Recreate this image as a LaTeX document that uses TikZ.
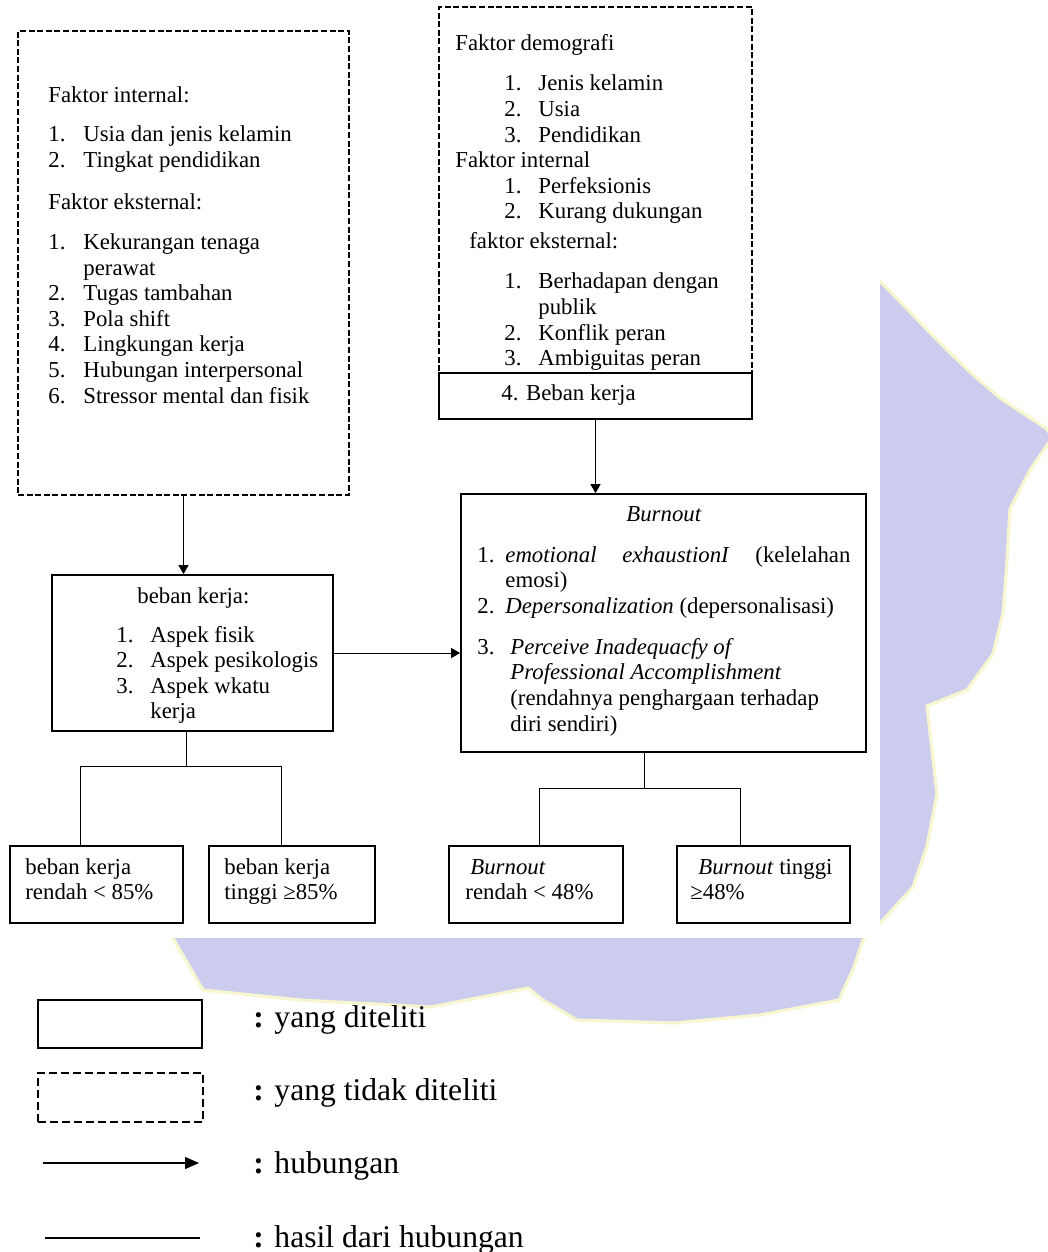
\documentclass[tikz,border=0pt]{standalone}
\usepackage{fontspec}
\setmainfont{Liberation Serif}
\usetikzlibrary{arrows.meta}
\definecolor{wmfill}{RGB}{204,204,238}
\definecolor{wmedge}{RGB}{248,246,208}
\newcommand{\diagfont}{\fontsize{11.4pt}{12.8pt}\selectfont}
\newcommand{\legfont}{\fontsize{15.8pt}{18pt}\selectfont}
\tikzset{
  solidbox/.style={draw, line width=0.85pt, inner sep=0pt},
  dashbox/.style={draw, line width=0.8pt, dash pattern=on 3pt off 1.3pt, inner sep=0pt},
  txt/.style={inner sep=0pt, anchor=base west, font=\diagfont},
  legtxt/.style={inner sep=0pt, anchor=base west, font=\legfont},
  link/.style={line width=0.5pt},
  rel/.style={link, -{Triangle[length=4.5pt,width=5pt]}}
}
\begin{document}
\begin{tikzpicture}[x=0.5pt,y=-0.5pt]
\useasboundingbox (0,0) rectangle (1048,1252);
% watermark behind the white sheet
\filldraw[wmfill, draw=wmedge, line width=1.6pt] (820,240) -- (883,284) -- (910,312) -- (940,343) -- (970,372) -- (1000,398) -- (1047,429) -- (1052,438) -- (1030,470) -- (1010,509) -- (1007,561) -- (1003,613) -- (993,654) -- (967,690) -- (927,706) -- (937,794) -- (927,846) -- (913,887) -- (883,920) -- (863,940) -- (854,967) -- (839,1000) -- (760,1015) -- (674,1023) -- (577,1020) -- (543,1000) -- (528,988) -- (431,1007) -- (300,1000) -- (203,990) -- (174,940) -- (150,900) -- cycle;
\fill[white] (0,0) rectangle (880,938);

% faktor (tidak diteliti), kiri
\node[dashbox, minimum width=165.5pt, minimum height=232pt] (intbox) at (183.5,263) {};
\node[txt] (inttext) at (48,103) {\begin{tabular}[t]{@{}p{17.5pt}@{}l@{}}
\multicolumn{2}{@{}l@{}}{Faktor internal:}\\[6.7pt]
1. & Usia dan jenis kelamin\\
2. & Tingkat pendidikan\\[8.2pt]
\multicolumn{2}{@{}l@{}}{Faktor eksternal:}\\[7.2pt]
1. & Kekurangan tenaga\\
   & perawat\\
2. & Tugas tambahan\\
3. & Pola shift\\
4. & Lingkungan kerja\\
5. & Hubungan interpersonal\\
6. & Stressor mental dan fisik
\end{tabular}};

% faktor burnout, kanan atas
\node[dashbox, minimum width=156.5pt, minimum height=183pt] (demobox) at (595.5,190) {};
\node[txt] (demotext) at (455,51) {\begin{tabular}[t]{@{}p{24.5pt}@{}p{17pt}@{}l@{}}
\multicolumn{3}{@{}l@{}}{Faktor demografi}\\[7.2pt]
 & 1. & Jenis kelamin\\
 & 2. & Usia\\
 & 3. & Pendidikan\\
\multicolumn{3}{@{}l@{}}{Faktor internal}\\
 & 1. & Perfeksionis\\
 & 2. & Kurang dukungan\\[2.2pt]
\multicolumn{3}{@{\hspace{7pt}}l@{}}{faktor eksternal:}\\[7.2pt]
 & 1. & Berhadapan dengan\\
 &    & publik\\
 & 2. & Konflik peran\\
 & 3. & Ambiguitas peran
\end{tabular}};
\node[solidbox, minimum width=156.5pt, minimum height=23pt] (bebanbox) at (595.5,396) {};
\node[txt] (bebantext) at (501,400) {4. Beban kerja};

% beban kerja
\node[solidbox, minimum width=140.5pt, minimum height=78pt] (bkbox) at (192.5,653) {};
\node[txt] (bktext) at (116,603) {\begin{tabular}[t]{@{}p{17pt}@{}l@{}}
\multicolumn{2}{@{\hspace{10.5pt}}l@{}}{beban kerja:}\\[6.7pt]
1. & Aspek fisik\\
2. & Aspek pesikologis\\
3. & Aspek wkatu\\
   & kerja
\end{tabular}};

% burnout
\node[solidbox, minimum width=202.5pt, minimum height=129pt] (burnbox) at (663.5,623) {};
\node[txt] (burntext) at (477,521) {\begin{tabular}[t]{@{}p{14pt}@{}l@{}}
\multicolumn{2}{@{\hspace{74.5pt}}l@{}}{\textit{Burnout}}\\[7.7pt]
1. & \makebox[172.5pt][l]{\textit{emotional}\hfill\textit{exhaustionI}\hfill(kelelahan}\\
   & emosi)\\
2. & \textit{Depersonalization} (depersonalisasi)\\[7.7pt]
3. & \hspace{2.5pt}\textit{Perceive Inadequacfy of}\\
   & \hspace{2.5pt}\textit{Professional Accomplishment}\\
   & \hspace{2.5pt}(rendahnya penghargaan terhadap\\
   & \hspace{2.5pt}diri sendiri)
\end{tabular}};

% hasil
\node[solidbox, minimum width=86.5pt, minimum height=38.5pt] (lowA) at (96.5,884.5) {};
\node[solidbox, minimum width=83pt, minimum height=38.5pt] (lowB) at (292,884.5) {};
\node[solidbox, minimum width=87pt, minimum height=38.5pt] (lowC) at (536,884.5) {};
\node[solidbox, minimum width=86.5pt, minimum height=38.5pt] (lowD) at (763.5,884.5) {};
\node[txt] (lowAtext) at (25,874) {\begin{tabular}[t]{@{}l@{}}beban kerja\\rendah < 85\%\end{tabular}};
\node[txt] (lowBtext) at (224,874) {\begin{tabular}[t]{@{}l@{}}beban kerja\\tinggi ≥85\%\end{tabular}};
\node[txt] (lowCtext) at (465,874) {\begin{tabular}[t]{@{}l@{}}\hspace{2.5pt}\textit{Burnout}\\rendah < 48\%\end{tabular}};
\node[txt] (lowDtext) at (690,874) {\begin{tabular}[t]{@{}l@{}}\hspace{4pt}\textit{Burnout} tinggi\\≥48\%\end{tabular}};

% hubungan
\draw[rel] (intbox.south) -- (intbox.south |- bkbox.north);
\draw[rel] (bebanbox.south) -- (bebanbox.south |- burnbox.north);
\draw[rel] (bkbox.east) -- (bkbox.east -| burnbox.west);

% hasil dari hubungan
\coordinate (bkjoin) at (186,766);
\coordinate (bkleft) at (80,766);
\coordinate (bkright) at (281,766);
\draw[link] (bkjoin |- bkbox.south) -- (bkjoin);
\draw[link] (bkleft |- lowA.north) -- (bkleft) -- (bkright) -- (bkright |- lowB.north);
\coordinate (bojoin) at (644,788);
\coordinate (boleft) at (539,788);
\coordinate (boright) at (740,788);
\draw[link] (bojoin |- burnbox.south) -- (bojoin);
\draw[link] (boleft |- lowC.north) -- (boleft) -- (boright) -- (boright |- lowD.north);

% keterangan
\node[solidbox, line width=1.4pt, minimum width=82pt, minimum height=24pt] (legsolid) at (120,1024) {};
\node[legtxt] (legsolidtxt) at (253,1027) {\textbf{:} yang diteliti};
\node[dashbox, line width=1.2pt, dash pattern=on 4pt off 2pt, minimum width=82.5pt, minimum height=24.5pt] (legdash) at (120.5,1097.5) {};
\node[legtxt] (legdashtxt) at (253,1100) {\textbf{:} yang tidak diteliti};
\coordinate (legarrowa) at (43,1163);
\coordinate (legarrowb) at (199,1163);
\draw[link, line width=0.6pt, -{Triangle[length=7pt,width=6pt]}] (legarrowa) -- (legarrowb);
\node[legtxt] (legarrowtxt) at (253,1173) {\textbf{:} hubungan};
\coordinate (leglinea) at (45,1238);
\coordinate (leglineb) at (200,1238);
\draw[link, line width=0.6pt] (leglinea) -- (leglineb);
\node[legtxt] (leglinetxt) at (253,1247) {\textbf{:} hasil dari hubungan};
\end{tikzpicture}
\end{document}
